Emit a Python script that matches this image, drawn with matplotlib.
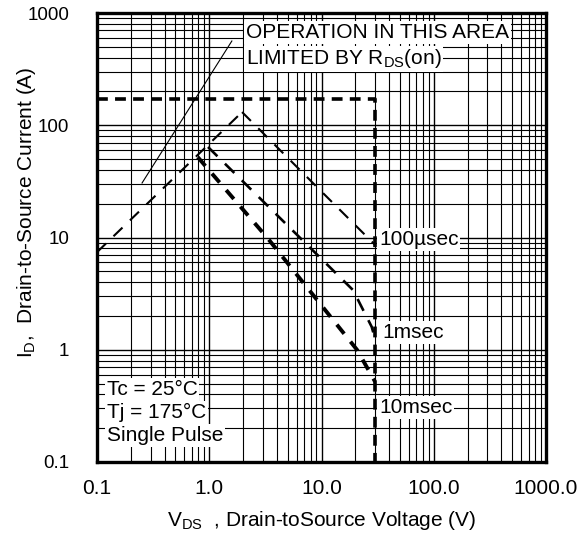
import matplotlib
matplotlib.use("Agg")
import matplotlib.pyplot as plt
import numpy as np

plt.rcParams['font.family'] = ['Liberation Sans', 'DejaVu Sans']
plt.rcParams['mathtext.fontset'] = 'custom'
plt.rcParams['mathtext.rm'] = 'Liberation Sans'
plt.rcParams['mathtext.it'] = 'Liberation Sans'
plt.rcParams['mathtext.bf'] = 'Liberation Sans'

# ---- data ----
rds_v = [0.1, 1.96]
rds_i = [7.4, 131]

us100_v = [1.96, 10.1, 30]
us100_i = [131, 25.4, 8.6]

ms1_v = [0.975, 19.1, 28.0, 30]
ms1_i = [64, 3.4, 1.6, 1.25]

ms10_v = [0.79, 3.3, 20.7, 30]
ms10_i = [52, 9.9, 1.0, 0.52]

limit_v = [0.1, 30, 30]
limit_i = [170, 170, 0.1]

pointer_v = [0.252, 1.59]
pointer_i = [30.6, 563]

x_ticks = [0.1, 1, 10, 100, 1000]
x_ticklabels = ["0.1", "1.0", "10.0", "100.0", "1000.0"]
y_ticks = [0.1, 1, 10, 100, 1000]
y_ticklabels = ["0.1", "1", "10", "100", "1000"]

fig = plt.figure(figsize=(5.87, 5.44), dpi=100)
ax = fig.add_axes([97/587, 82/544, 449/587, 449/544])
ax.set_xscale('log')
ax.set_yscale('log')
ax.set_xlim(0.1, 1000)
ax.set_ylim(0.1, 1000)

ax.grid(True, which='major', color='black', lw=1.0, zorder=0)
ax.grid(True, which='minor', color='black', lw=0.8, zorder=0)
ax.set_axisbelow(True)

ax.set_xticks(x_ticks)
ax.set_xticklabels(x_ticklabels)
ax.set_yticks(y_ticks)
ax.set_yticklabels(y_ticklabels)
ax.tick_params(which='both', length=0)
ax.tick_params(axis='x', pad=12, labelsize=15)
ax.tick_params(axis='y', pad=20, labelsize=13.5)
ax.xaxis.set_minor_formatter(matplotlib.ticker.NullFormatter())
ax.yaxis.set_minor_formatter(matplotlib.ticker.NullFormatter())

for s in ax.spines.values():
    s.set_linewidth(2.4)
    s.set_color('black')

# lines
ax.plot(pointer_v, pointer_i, color='black', lw=0.8, zorder=3)
ax.plot(rds_v, rds_i, color='black', lw=1.5, ls=(0, (6, 5)), zorder=3)
ax.plot(us100_v, us100_i, color='black', lw=1.5, ls=(0, (6, 5)), zorder=3)
ax.plot(ms1_v, ms1_i, color='black', lw=1.9, ls=(0, (5, 4)), zorder=3)
ax.plot(ms10_v, ms10_i, color='black', lw=2.8, ls=(0, (3, 2.6)), zorder=3)
ax.plot(limit_v, limit_i, color='black', lw=2.6, ls=(0, (3, 2)), zorder=4)

wb = dict(facecolor='white', edgecolor='none', boxstyle='square,pad=0.08')
fs = 15
ax.text(0.332, 0.944, "OPERATION IN THIS AREA", transform=ax.transAxes,
        fontsize=fs, va='baseline', ha='left', bbox=wb, zorder=5)
ax.text(0.332, 0.886, r"LIMITED BY R$_{\mathrm{DS}}$(on)", transform=ax.transAxes,
        fontsize=fs, va='baseline', ha='left', bbox=wb, zorder=5)

ax.text(0.022, 0.149, "Tc = 25°C", transform=ax.transAxes,
        fontsize=fs, va='baseline', ha='left', bbox=wb, zorder=5)
ax.text(0.022, 0.098, "Tj = 175°C", transform=ax.transAxes,
        fontsize=fs, va='baseline', ha='left', bbox=wb, zorder=5)
ax.text(0.022, 0.047, "Single Pulse", transform=ax.transAxes,
        fontsize=fs, va='baseline', ha='left', bbox=wb, zorder=5)

ax.text(0.628, 0.483, "100µsec", transform=ax.transAxes,
        fontsize=fs, va='baseline', ha='left', bbox=wb, zorder=5)
ax.text(0.635, 0.276, "1msec", transform=ax.transAxes,
        fontsize=fs, va='baseline', ha='left', bbox=wb, zorder=5)
ax.text(0.628, 0.109, "10msec", transform=ax.transAxes,
        fontsize=fs, va='baseline', ha='left', bbox=wb, zorder=5)

ax.set_xlabel(r"V$_{\mathrm{DS}}$  , Drain-toSource Voltage (V)", fontsize=15)
ax.xaxis.label.set_va('baseline')
ax.xaxis.set_label_coords(0.5, -0.1425)
ax.set_ylabel(r"I$_{\mathrm{D}}$,  Drain-to-Source Current (A)", fontsize=15)
ax.yaxis.label.set_va('center')
ax.yaxis.set_label_coords(-0.158, 0.556)

fig.savefig("out.png", dpi=100)
